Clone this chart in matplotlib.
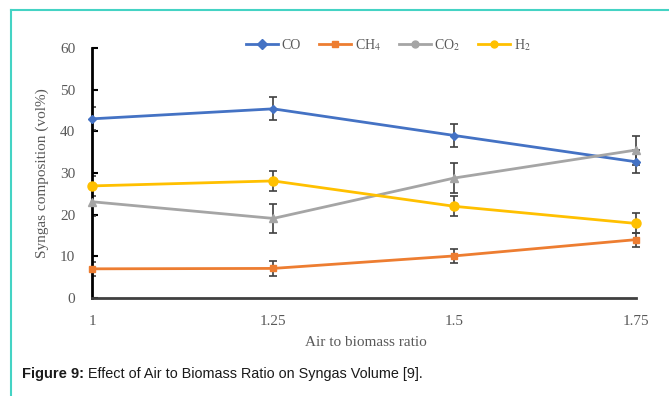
import numpy as np
import matplotlib
matplotlib.use('Agg')
import matplotlib.pyplot as pl
from matplotlib.lines import Line2D

#--------------------------------------------------------------------------------------------
# data

ratio = [1.0, 1.25, 1.5, 1.75]

co  = [43.0, 45.4, 39.0, 32.7]
ch4 = [7.0, 7.1, 10.1, 14.0]
co2 = [23.1, 19.1, 28.8, 35.5]
h2  = [26.9, 28.1, 22.0, 17.9]

co_err  = [2.8, 2.8, 2.8, 2.8]
ch4_err = [1.7, 1.7, 1.7, 1.7]
co2_err = [3.5, 3.5, 3.5, 3.5]
h2_err  = [2.4, 2.4, 2.4, 2.4]

labels = ['CO', 'CH$_4$', 'CO$_2$', 'H$_2$']
xticklabels = ['1', '1.25', '1.5', '1.75']

#--------------------------------------------------------------------------------------------

pl.rcParams['font.family'] = ['Liberation Serif', 'DejaVu Serif']
pl.rcParams['mathtext.fontset'] = 'stix'

grey = '#595959'

fig1 = pl.figure(figsize=(6.69, 3.96), dpi=100)
ax11 = fig1.add_axes([92/669., 1-298/396., 548/669., 250/396.])

series = [(co, co_err, '#4472C4', 'D', 4.5),
          (ch4, ch4_err, '#ED7D31', 's', 5),
          (co2, co2_err, '#A5A5A5', '^', 6),
          (h2, h2_err, '#FFC000', 'o', 6.5)]

for (y, e, c, m, ms) in series:
    ax11.errorbar(ratio, y, yerr=e, fmt='none', ecolor='#404040', elinewidth=1.2,
                  capsize=3, capthick=1.2, zorder=2)
    ax11.plot(ratio, y, '-', color=c, lw=2, marker=m, ms=ms, clip_on=False, zorder=3)

ax11.set_xlim(1., 1.756)
ax11.set_ylim(0., 60.)
ax11.set_xticks(ratio)
ax11.set_xticklabels(xticklabels)
ax11.set_yticks(np.arange(0, 61, 10))

for s in ['top', 'right']:
    ax11.spines[s].set_visible(False)
ax11.spines['left'].set_linewidth(2)
ax11.spines['left'].set_color('black')
ax11.spines['bottom'].set_linewidth(2)
ax11.spines['bottom'].set_color('#404040')
ax11.spines['bottom'].set_bounds(1., 1.75)

ax11.tick_params(axis='y', direction='in', length=4, width=1.5, color='black',
                 labelcolor=grey, labelsize=11, pad=12)
ax11.tick_params(axis='x', length=0, labelcolor=grey, labelsize=11, pad=12)

ax11.set_xlabel('Air to biomass ratio', color=grey, fontsize=11, labelpad=6)
ax11.set_ylabel('Syngas composition (vol%)', color=grey, fontsize=11, labelpad=8)

handles = [Line2D([], [], color=c, lw=2, marker=m if m != '^' else 'o', ms=5)
           for (y, e, c, m, ms) in series]
ax11.legend(handles, labels, loc='center', bbox_to_anchor=(0.541, 1.012), ncol=4,
            frameon=False, fontsize=10, handlelength=2.3, columnspacing=1.3,
            handletextpad=0.25, labelcolor=grey)

#------------------
# frame and caption

teal = '#44d3c4'
x0 = 11/669. ; y0 = 1 - 10/396.
fig1.add_artist(Line2D([x0, x0], [0, y0], color=teal, lw=1.5, transform=fig1.transFigure))
fig1.add_artist(Line2D([x0, 1], [y0, y0], color=teal, lw=1.5, transform=fig1.transFigure))

fig1.text(22/669., 1 - 378/396., 'Figure 9:', fontsize=10.5, fontweight='bold',
          family='Liberation Sans', color='#1a1a1a')
fig1.text(88/669., 1 - 378/396., 'Effect of Air to Biomass Ratio on Syngas Volume [9].',
          fontsize=10.4, family='Liberation Sans', color='#1a1a1a')

#--------------------------------------------------------------------------------------------

fig1.savefig('out.png', dpi=100)
